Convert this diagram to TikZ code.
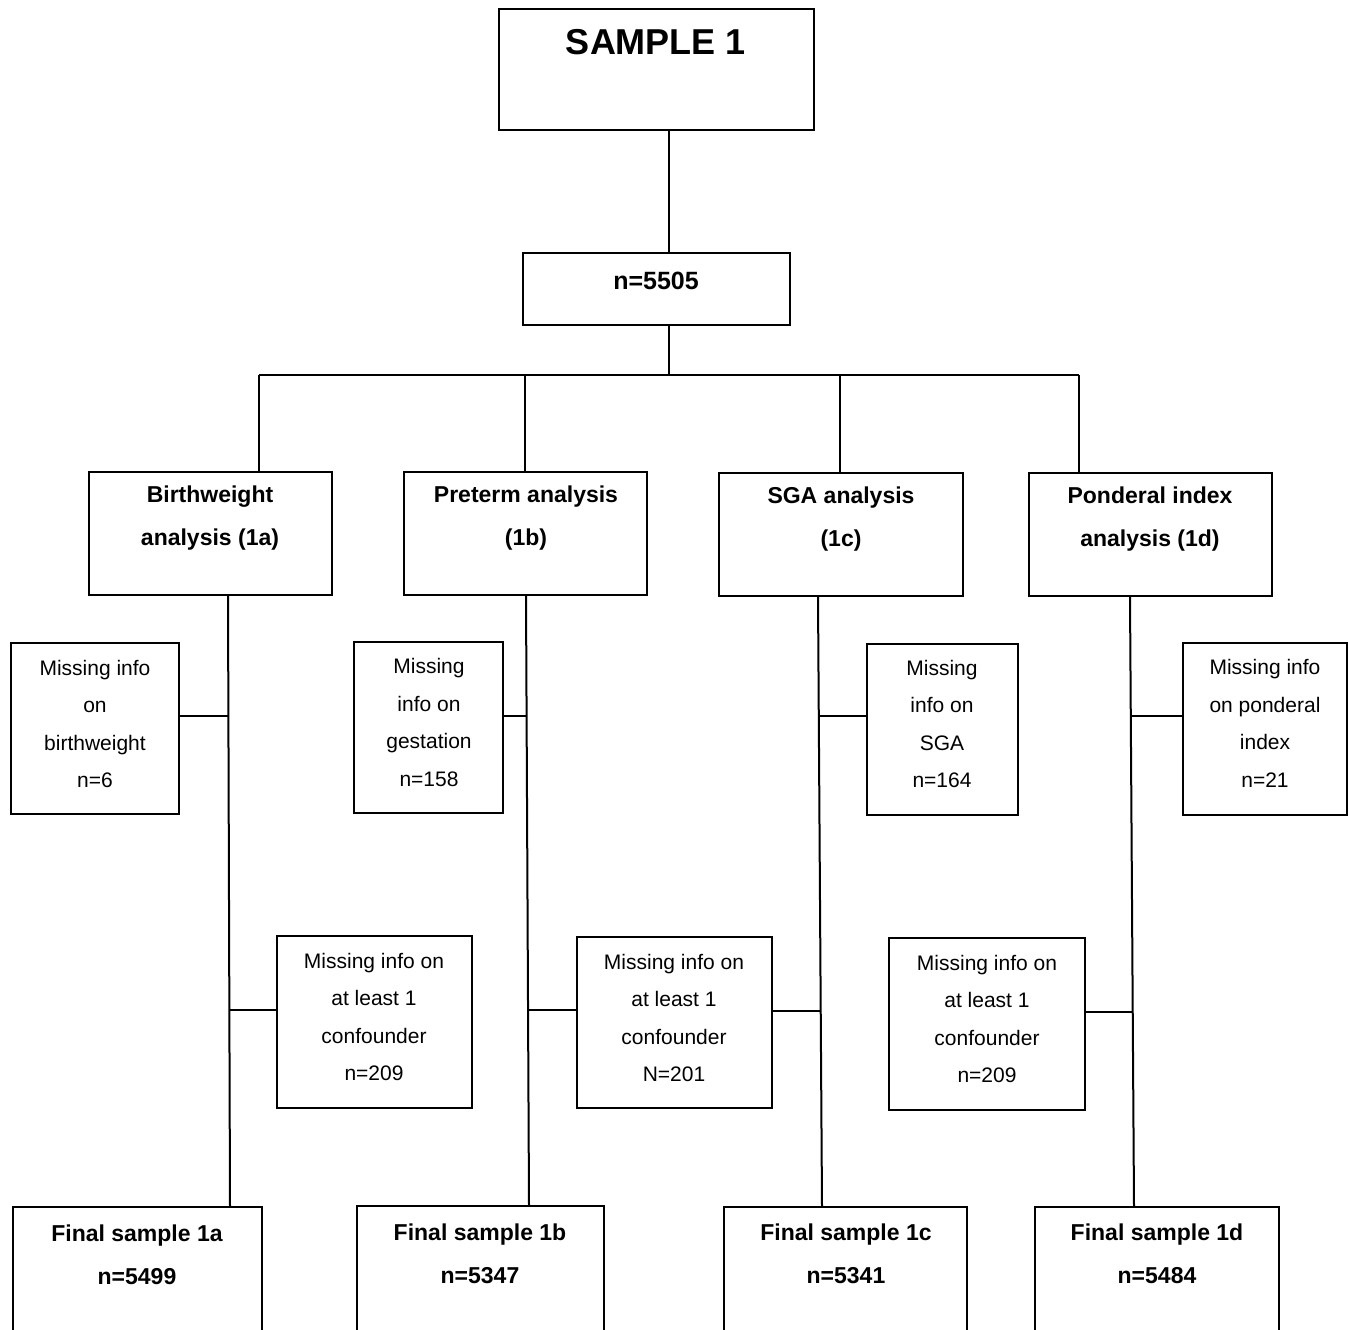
\documentclass[tikz,border=0pt]{standalone}
\usepackage{fontspec}
\setmainfont{Liberation Sans}
\begin{document}
\begin{tikzpicture}[x=1pt,y=-1pt,
  box/.style={draw, line width=2pt, rectangle, inner sep=0pt},
  txt/.style={align=center, inner sep=0pt, font=\fontsize{21}{37.5}\selectfont},
  btxt/.style={align=center, inner sep=0pt, font=\bfseries\fontsize{23}{43}\selectfont},
  conn/.style={line width=2pt}]
\useasboundingbox (0,0) rectangle (1349,1330);
\clip (0,0) rectangle (1349,1330);
% boxes
\node[box, minimum width=315pt, minimum height=121pt] (s1) at (656.5,69.5) {};
\node[box, minimum width=267pt, minimum height=72pt] (n) at (656.5,289) {};
\node[box, minimum width=243pt, minimum height=123pt] (a) at (210.5,533.5) {};
\node[box, minimum width=243pt, minimum height=123pt] (b) at (525.5,533.5) {};
\node[box, minimum width=244pt, minimum height=123pt] (c) at (841,534.5) {};
\node[box, minimum width=243pt, minimum height=123pt] (d) at (1150.5,534.5) {};
\node[box, minimum width=168pt, minimum height=171pt] (ma) at (95,728.5) {};
\node[box, minimum width=149pt, minimum height=171pt] (mb) at (428.5,727.5) {};
\node[box, minimum width=151pt, minimum height=171pt] (mc) at (942.5,729.5) {};
\node[box, minimum width=164pt, minimum height=172pt] (md) at (1265,729) {};
\node[box, minimum width=195pt, minimum height=172pt] (ca) at (374.5,1022) {};
\node[box, minimum width=195pt, minimum height=171pt] (cb) at (674.5,1022.5) {};
\node[box, minimum width=196pt, minimum height=172pt] (cc) at (987,1024) {};
\node[box, minimum width=249pt, minimum height=129pt] (fa) at (137.5,1271.5) {};
\node[box, minimum width=247pt, minimum height=130pt] (fb) at (480.5,1271) {};
\node[box, minimum width=243pt, minimum height=129pt] (fc) at (845.5,1271.5) {};
\node[box, minimum width=244pt, minimum height=129pt] (fd) at (1157,1271.5) {};
% texts
\node[inner sep=0pt, font=\bfseries\fontsize{36}{40}\selectfont] (s1t) at (656,42) {SAMPLE 1};
\node[inner sep=0pt, font=\bfseries\fontsize{25}{30}\selectfont] (nt) at (656,281) {n=5505};
\node[btxt] (at) at (210,518.5) {Birthweight\\analysis (1a)};
\node[btxt] (bt) at (526,518.5) {Preterm analysis\\(1b)};
\node[btxt] (ct) at (841,519.5) {SGA analysis\\(1c)};
\node[btxt] (dt) at (1150,519.5) {Ponderal index\\analysis (1d)};
\node[txt] (mat) at (95,724) {Missing info\\on\\birthweight\\n=6};
\node[txt] (mbt) at (429,722.5) {Missing\\info on\\gestation\\n=158};
\node[txt] (mct) at (942,724) {Missing\\info on\\SGA\\n=164};
\node[txt] (mdt) at (1265,723.5) {Missing info\\on ponderal\\index\\n=21};
\node[txt] (cat) at (374,1017) {Missing info on\\at least 1\\confounder\\n=209};
\node[txt] (cbt) at (674,1018) {Missing info on\\at least 1\\confounder\\N=201};
\node[txt] (cct) at (987,1019) {Missing info on\\at least 1\\confounder\\n=209};
\node[btxt] (fat) at (137,1255) {Final sample 1a\\n=5499};
\node[btxt] (fbt) at (480,1253.5) {Final sample 1b\\n=5347};
\node[btxt] (fct) at (846,1254) {Final sample 1c\\n=5341};
\node[btxt] (fdt) at (1157,1254) {Final sample 1d\\n=5484};
% junction coordinates
\coordinate (j0) at (669,375);
\coordinate (ja) at (259,375);
\coordinate (jb) at (525,375);
\coordinate (jc) at (840,375);
\coordinate (jd) at (1079,375);
% top connectors
\draw[conn] ([xshift=12.5pt]s1.south) -- ([xshift=12.5pt]n.north);
\draw[conn] ([xshift=12.5pt]n.south) -- (j0);
\draw[conn] (ja) -- (jd);
\draw[conn] (ja) -- (ja |- a.north);
\draw[conn] (jb) -- (jb |- b.north);
\draw[conn] (jc) -- (jc |- c.north);
\draw[conn] (jd) -- (jd |- d.north);
% trunks
\draw[conn] ([xshift=17.5pt]a.south) -- ([xshift=92.5pt]fa.north);
\draw[conn] ([xshift=0.5pt]b.south) -- ([xshift=48.5pt]fb.north);
\draw[conn] ([xshift=-23pt]c.south) -- ([xshift=-23.5pt]fc.north);
\draw[conn] ([xshift=-20.5pt]d.south) -- ([xshift=-23pt]fd.north);
% side branches
\coordinate (ka) at (228.7,716);
\coordinate (kb) at (527,716);
\coordinate (kc) at (818.8,716);
\coordinate (kd) at (1131,716);
\draw[conn] (ka) -- (ka -| ma.east);
\draw[conn] (kb) -- (kb -| mb.east);
\draw[conn] (kc) -- (kc -| mc.west);
\draw[conn] (kd) -- (kd -| md.west);
\coordinate (la) at (229.5,1010);
\coordinate (lb) at (528.5,1010);
\coordinate (lc) at (820.5,1011);
\coordinate (ld) at (1133,1012);
\draw[conn] (la) -- (la -| ca.west);
\draw[conn] (lb) -- (lb -| cb.west);
\draw[conn] (lc) -- (lc -| cb.east);
\draw[conn] (ld) -- (ld -| cc.east);
\end{tikzpicture}
\end{document}
